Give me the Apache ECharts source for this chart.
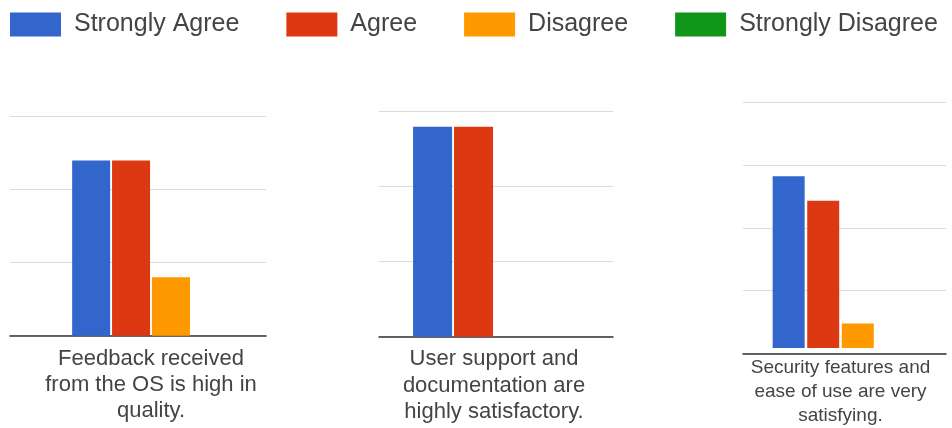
<!DOCTYPE html>
<html>
<head>
<meta charset="utf-8">
<script src="https://cdn.jsdelivr.net/npm/echarts@6/dist/echarts.min.js"></script>
<style>
html,body{margin:0;padding:0;background:#fff;}
#chart{width:952px;height:428px;}
</style>
</head>
<body>
<div id="chart"></div>
<script>
// ---- data ----
const categories = [
  'Feedback received\nfrom the OS is high in\nquality.',
  'User support and\ndocumentation are\nhighly satisfactory.',
  'Security features and\nease of use are very\nsatisfying.'
];
const seriesNames = ['Strongly Agree', 'Agree', 'Disagree', 'Strongly Disagree'];
const stronglyAgree = [6, 7, 7];
const agree = [6, 7, 6];
const disagree = [2, 0, 1];
const stronglyDisagree = [0, 0, 0];
const axisMax = [7.5, 7.5, 10];
const axisInterval = 2.5;

// ---- styling ----
const colors = ['#3366cc', '#dc3912', '#ff9900', '#109618'];
const font = "'Liberation Sans', Arial, sans-serif";
const values = [stronglyAgree, agree, disagree, stronglyDisagree];

// panel layout: frame grid (gridlines + baseline) and bar grid
const frames = [
  {left: 10, width: 256, top: 116.7, height: 219},
  {left: 379, width: 234, top: 111.7, height: 225},
  {left: 743, width: 203, top: 102.7, height: 250.6}
];
const barGrids = [
  {left: 36, width: 230, top: 116.7, height: 219},
  {left: 377, width: 234, top: 111.7, height: 225},
  {left: 735, width: 211, top: 102.7, height: 250.6}
];
const barWidths = [38, 39, 32];
const barGaps = ['5%', '5%', '8%'];
const labelFont = [22, 22, 19];
const labelLH = [26, 26.5, 24];
const labelMargin = [10, 9, 8];

const grid = [], xAxis = [], yAxis = [], series = [];
for (let p = 0; p < 3; p++) {
  // frame grid
  const fi = grid.length;
  grid.push(Object.assign({containLabel: false}, frames[p]));
  xAxis.push({
    type: 'category', gridIndex: fi, data: [''],
    axisLine: {show: true, lineStyle: {color: '#333', width: 1.5}},
    axisTick: {show: false}, axisLabel: {show: false}, splitLine: {show: false}
  });
  yAxis.push({
    type: 'value', gridIndex: fi, min: 0, max: axisMax[p], interval: axisInterval,
    axisLine: {show: false}, axisTick: {show: false}, axisLabel: {show: false},
    splitLine: {show: true, lineStyle: {color: '#dcdcdc', width: 1.2}}
  });
  // bar grid
  const bi = grid.length;
  grid.push(Object.assign({containLabel: false}, barGrids[p]));
  xAxis.push({
    type: 'category', gridIndex: bi, data: [categories[p]],
    axisLine: {show: false}, axisTick: {show: false}, splitLine: {show: false},
    axisLabel: {
      interval: 0, fontSize: labelFont[p], lineHeight: labelLH[p], color: '#444',
      fontFamily: font, margin: labelMargin[p], align: 'center'
    }
  });
  yAxis.push({
    type: 'value', gridIndex: bi, min: 0, max: axisMax[p], interval: axisInterval,
    show: false, splitLine: {show: false}
  });
  for (let s = 0; s < 4; s++) {
    series.push({
      name: seriesNames[s], type: 'bar', xAxisIndex: bi, yAxisIndex: bi,
      data: [values[s][p]], barWidth: barWidths[p], barGap: barGaps[p],
      itemStyle: {color: colors[s]}, animation: false
    });
  }
}

const chart = echarts.init(document.getElementById('chart'), null, {renderer: 'canvas'});
chart.setOption({
  animation: false,
  color: colors,
  backgroundColor: '#fff',
  legend: {
    data: seriesNames, left: 10, top: 12, padding: 0,
    itemWidth: 51, itemHeight: 24, itemGap: 47,
    icon: 'rect',
    textStyle: {fontSize: 25, color: '#444', fontFamily: font, padding: [0, 0, 0, 8]}
  },
  grid: grid, xAxis: xAxis, yAxis: yAxis, series: series
});
</script>
</body>
</html>
